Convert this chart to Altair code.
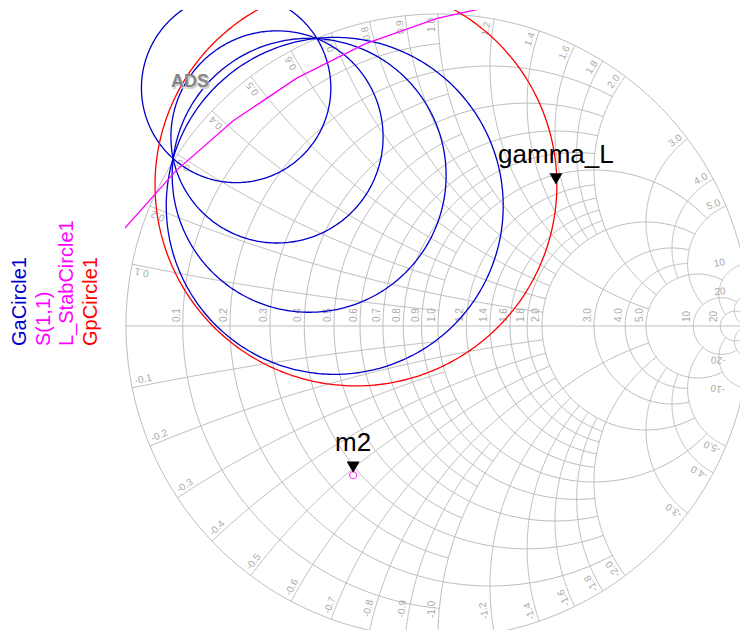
import numpy as np
import pandas as pd
import altair as alt

# ---------------- chart values ----------------
grid_values = [0.1, 0.2, 0.3, 0.4, 0.5, 0.6, 0.7, 0.8, 0.9, 1.0,
               1.2, 1.4, 1.6, 1.8, 2.0, 3.0, 4.0, 5.0, 10.0, 20.0]
grid_reach = [1, 2, 1, 2, 1, 2, 1, 2, 1, 5,
              2, 2, 2, 2, 5, 5, 5, 10, 20, np.inf]
grid_text = ["0.1", "0.2", "0.3", "0.4", "0.5", "0.6", "0.7", "0.8", "0.9", "1.0",
             "1.2", "1.4", "1.6", "1.8", "2.0", "3.0", "4.0", "5.0", "10", "20"]

ga_center_x = [-0.647, -0.516, -0.413, -0.331]
ga_center_y = [0.763, 0.606, 0.483, 0.385]
ga_radius = [0.3035, 0.340, 0.439, 0.540]

gp_center = [-0.263, 0.452]
gp_radius = 0.644

stab_center = [0.532, -0.891]
stab_radius = 1.952
stab_start_deg = 5.1
stab_step_deg = 7.2
stab_first, stab_last = 12, 22

s11_point = [-0.272, -0.478]
gammaL_point = [0.378, 0.452]

legend_names = ["GaCircle1", "S(1,1)", "L_StabCircle1", "GpCircle1"]
legend_colors = ["#0000cc", "#ff00ff", "#ff00ff", "#ff0000"]
legend_col_x = [-1.34, -1.263, -1.189, -1.113]
legend_start_y = -0.064

GRID = "#bdbdbd"
LABEL = "#aaaaaa"
FONT = "Liberation Sans"

# page layout: chart centre at (438, 326) px, unit radius 312 px; svg 732 x 622
CX, CY, RPX = 438, 326, 312
X0, X1 = (125 - CX) / RPX, (740 - CX) / RPX
Y0, Y1 = (CY - 630) / RPX, (CY - 10) / RPX

# ---------------- geometry helpers ----------------
def gam(z):
    return (z - 1) / (z + 1)

def r_arc(r, X, n=160):
    c = r / (1 + r)
    rho = 1 / (1 + r)
    if np.isinf(X):
        phi = np.linspace(0, 2 * np.pi, n)
    else:
        p = np.angle(gam(r + 1j * X) - c)
        phi = np.linspace(p, 2 * np.pi - p, n)
    return c + rho * np.exp(1j * phi)

def x_arc(x, Rm, n=160):
    cen = 1 + 1j / x
    rad = 1 / abs(x)
    a0 = np.angle(gam(1j * x) - cen)
    g1 = 1.0 + 0j if np.isinf(Rm) else gam(Rm + 1j * x)
    a1 = np.angle(g1 - cen)
    d = (a1 - a0 + np.pi) % (2 * np.pi) - np.pi
    psi = a0 + d * np.linspace(0, 1, n)
    return cen + rad * np.exp(1j * psi)

rows = []
def add(pts, gid, series=None):
    for k, p in enumerate(pts):
        rows.append({"gx": float(p.real), "gy": float(p.imag), "gid": gid, "k": k, "series": series})

add(np.exp(1j * np.linspace(0, 2 * np.pi, 400)), "outer")
add(np.array([-1 + 0j, 1 + 0j]), "axis")
for v, lim in zip(grid_values, grid_reach):
    add(r_arc(v, lim), f"r{v}")
    add(x_arc(v, lim), f"xp{v}")
    add(x_arc(-v, lim), f"xn{v}")
grid_df = pd.DataFrame(rows)

rows = []
t = np.linspace(0, 2 * np.pi, 400)
for i, (cx, cy, rr) in enumerate(zip(ga_center_x, ga_center_y, ga_radius)):
    add(cx + 1j * cy + rr * np.exp(1j * t), f"ga{i}", "GaCircle1")
add(gp_center[0] + 1j * gp_center[1] + gp_radius * np.exp(1j * t), "gp", "GpCircle1")
ts = np.deg2rad(stab_start_deg + np.arange(stab_first, stab_last + 1) * stab_step_deg)
add(stab_center[0] + 1j * stab_center[1] + stab_radius * np.exp(1j * ts), "stab", "L_StabCircle1")
curve_df = pd.DataFrame(rows)

# ---------------- grid labels ----------------
def inward(theta_deg):
    """radial factor keeping a rim label inside the drawable page area"""
    c, s = np.cos(np.radians(theta_deg)), np.sin(np.radians(theta_deg))
    px, py = CX + RPX * c, CY - RPX * s
    need = 0.0
    if s < -0.05:
        need = max(need, (py - 622) / (-s))
    if c > 0.05:
        need = max(need, (px - 730) / c)
    return 1 - max(0.0, need) / RPX

ax_lab = pd.DataFrame({"gx": [(v - 1) / (v + 1) for v in grid_values], "gy": 0.0,
                       "txt": grid_text, "ang": 270})
th = [2 * np.degrees(np.arctan(1 / v)) for v in grid_values]
pos_lab = pd.DataFrame({"gx": [inward(a) * np.cos(np.radians(a)) for a in th],
                        "gy": [inward(a) * np.sin(np.radians(a)) for a in th],
                        "txt": grid_text, "ang": [(-a) % 360 for a in th]})
neg_lab = pd.DataFrame({"gx": [inward(-a) * np.cos(np.radians(-a)) for a in th],
                        "gy": [inward(-a) * np.sin(np.radians(-a)) for a in th],
                        "txt": ["-" + s for s in grid_text],
                        "ang": [(-(-a + 180)) % 360 for a in th]})

xs = alt.Scale(domain=[X0, X1], nice=False, zero=False)
ys = alt.Scale(domain=[Y0, Y1], nice=False, zero=False)
X = alt.X("gx:Q", scale=xs, axis=None)
Y = alt.Y("gy:Q", scale=ys, axis=None)

grid = alt.Chart(grid_df).mark_line(color=GRID, strokeWidth=1, clip=True).encode(
    x=X, y=Y, detail="gid:N", order="k:Q")

curves = alt.Chart(curve_df).mark_line(strokeWidth=1.3, clip=True).encode(
    x=X, y=Y, detail="gid:N", order="k:Q",
    color=alt.Color("series:N", scale=alt.Scale(domain=["GaCircle1", "GpCircle1", "L_StabCircle1"],
                                                range=["#0000cc", "#ff0000", "#ff00ff"]), legend=None))

def lab(df, align, dx):
    return alt.Chart(df).mark_text(font=FONT, fontSize=10, color=LABEL, align=align,
                                   baseline="bottom", dx=dx, dy=-1).encode(
        x=X, y=Y, text="txt:N", angle=alt.Angle("ang:Q", scale=None))

labels = lab(ax_lab, "left", 4) + lab(pos_lab, "right", -4) + lab(neg_lab, "left", 4)

ads_df = pd.DataFrame({"gx": [-0.795], "gy": [0.782], "txt": ["ADS"]})
ads = alt.Chart(ads_df).mark_text(font=FONT, fontSize=18, fontWeight="bold", color="#d0d0d0",
                                  dx=1.5, dy=1.5).encode(x=X, y=Y, text="txt:N") + \
      alt.Chart(ads_df).mark_text(font=FONT, fontSize=18, fontWeight="bold", color="#868686").encode(
          x=X, y=Y, text="txt:N")

s11_df = pd.DataFrame({"gx": [s11_point[0]], "gy": [s11_point[1]], "txt": ["m2"]})
gl_df = pd.DataFrame({"gx": [gammaL_point[0]], "gy": [gammaL_point[1]], "txt": ["gamma_L"]})

s11 = alt.Chart(s11_df).mark_point(shape="circle", filled=False, color="#ff00ff", size=50,
                                   strokeWidth=1.3).encode(x=X, y=Y)
tri1 = alt.Chart(s11_df).mark_point(shape="triangle-down", filled=True, color="black", size=169,
                                    opacity=1, yOffset=-8).encode(x=X, y=Y)
tri2 = alt.Chart(gl_df).mark_point(shape="triangle-down", filled=True, color="black", size=169,
                                   opacity=1, yOffset=-6).encode(x=X, y=Y)
t1 = alt.Chart(s11_df).mark_text(font=FONT, fontSize=26, color="black", baseline="alphabetic",
                                 dy=-24).encode(x=X, y=Y, text="txt:N")
t2 = alt.Chart(gl_df).mark_text(font=FONT, fontSize=26, color="black", baseline="alphabetic",
                                dy=-22).encode(x=X, y=Y, text="txt:N")

leg_df = pd.DataFrame({"gx": legend_col_x, "gy": legend_start_y, "txt": legend_names,
                       "col": legend_colors})
legend = alt.Chart(leg_df).mark_text(font=FONT, fontSize=20, align="left", baseline="middle",
                                     angle=270).encode(
    x=X, y=Y, text="txt:N", color=alt.Color("col:N", scale=None))

chart = alt.layer(grid, labels, curves, ads, s11, tri1, tri2, t1, t2, legend).properties(
    width=615, height=620,
    padding={"left": 117, "top": 2, "right": 0, "bottom": 0},
    autosize=alt.AutoSizeParams(type="none"),
).configure_view(stroke=None)

chart.save("out.html", embed_options={"renderer": "svg", "actions": False})
